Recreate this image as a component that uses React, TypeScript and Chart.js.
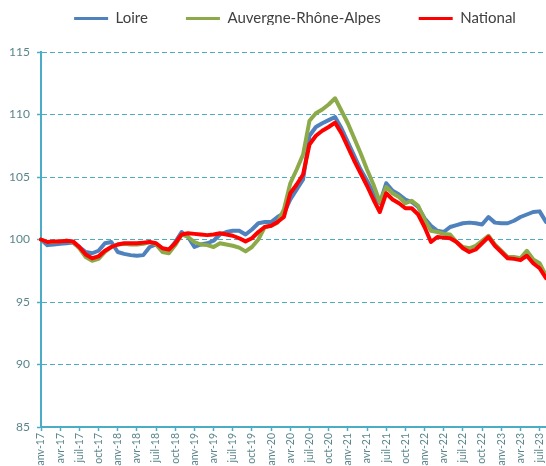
import React, { useEffect, useRef } from 'react';
import { Chart, registerables } from 'chart.js';

Chart.register(...registerables);

// Category labels (monthly, janv-17 .. août-23)
const years = ['17', '18', '19', '20', '21', '22', '23'];
const monthNames = ['janv', 'févr', 'mars', 'avr', 'mai', 'juin', 'juil', 'août', 'sept', 'oct', 'nov', 'déc'];
const allMonths: string[] = [];
years.forEach((y) => monthNames.forEach((m) => allMonths.push(`${m}-${y}`)));
const labels = allMonths.slice(0, 80);

// Series values (index base 100 = janv-17)
const loire = [
  100.0, 99.55, 99.6, 99.65, 99.7, 99.75, 99.4, 99.0, 98.9, 99.1,
  99.7, 99.8, 99.0, 98.85, 98.75, 98.7, 98.75, 99.4, 99.6, 99.3,
  99.1, 99.8, 100.6, 100.2, 99.4, 99.6, 99.7, 99.9, 100.4, 100.6,
  100.7, 100.7, 100.4, 100.8, 101.3, 101.4, 101.4, 101.8, 102.1, 103.2,
  104.0, 104.8, 108.3, 109.0, 109.3, 109.55, 109.8, 108.9, 107.8, 106.7,
  105.6, 104.7, 103.7, 102.9, 104.5, 103.9, 103.6, 103.2, 103.0, 102.6,
  101.7, 101.1, 100.7, 100.6, 101.0, 101.15, 101.3, 101.35, 101.3, 101.2,
  101.8, 101.35, 101.3, 101.3, 101.5, 101.8, 102.0, 102.2, 102.25, 101.4,
];
const ara = [
  100.0, 99.8, 99.8, 99.85, 99.9, 99.8, 99.3, 98.6, 98.3, 98.45,
  99.0, 99.4, 99.6, 99.65, 99.6, 99.6, 99.65, 99.8, 99.6, 99.0,
  98.9, 99.55, 100.4, 100.2, 99.8, 99.6, 99.55, 99.4, 99.7, 99.6,
  99.5, 99.35, 99.05, 99.4, 100.0, 101.0, 101.1, 101.35, 102.4, 104.5,
  105.6, 106.8, 109.5, 110.1, 110.4, 110.8, 111.3, 110.3, 109.3, 108.1,
  106.9, 105.6, 104.4, 103.0, 104.2, 103.7, 103.4, 102.9, 103.1, 102.7,
  101.6, 100.7, 100.6, 100.45, 100.4, 99.8, 99.4, 99.3, 99.5, 99.9,
  100.3, 99.6, 99.1, 98.6, 98.6, 98.5, 99.1, 98.4, 98.1, 97.1,
];
const national = [
  100.0, 99.8, 99.85, 99.85, 99.9, 99.85, 99.4, 98.8, 98.5, 98.65,
  99.1, 99.4, 99.6, 99.7, 99.7, 99.7, 99.75, 99.8, 99.7, 99.3,
  99.2, 99.7, 100.4, 100.5, 100.45, 100.4, 100.35, 100.4, 100.5, 100.4,
  100.3, 100.1, 99.85, 100.1, 100.6, 101.0, 101.1, 101.4, 101.8, 103.7,
  104.4, 105.2, 107.6, 108.3, 108.7, 109.0, 109.35, 108.5, 107.4, 106.3,
  105.3, 104.3, 103.2, 102.2, 103.7, 103.2, 102.9, 102.5, 102.5, 102.0,
  101.0, 99.8, 100.2, 100.15, 100.1, 99.8, 99.3, 99.0, 99.2, 99.7,
  100.2, 99.5, 99.0, 98.5, 98.45, 98.35, 98.7, 98.1, 97.7, 96.9,
];

const seriesNames = ['Loire', 'Auvergne-Rhône-Alpes', 'National'];
const yMin = 85;
const yMax = 115;
const yStep = 5;

const BLUE = '#4F81BD';
const GREEN = '#8DAA4B';
const RED = '#FF0000';
const AXIS = '#4BACC6';
const TICK = '#5A858C';
const FONT = 'Lato, "Noto Sans", sans-serif';

const LEGEND_HEIGHT = 52;
const LEGEND_DX = 22;
const LEGEND_DY = -27;

const legendTweak = {
  id: 'legendTweak',
  beforeLayout(chart: any) {
    const lg = chart.legend;
    if (lg && !lg.__tweaked) {
      const fit = lg.fit.bind(lg);
      lg.fit = function () {
        fit();
        this.height = LEGEND_HEIGHT;
      };
      lg.__tweaked = true;
    }
  },
  afterLayout(chart: any) {
    const lg = chart.legend;
    if (lg) {
      lg.left += LEGEND_DX;
      lg.right += LEGEND_DX;
      lg.top += LEGEND_DY;
      lg.bottom += LEGEND_DY;
    }
  },
};

export default function App() {
  const ref = useRef<HTMLCanvasElement>(null);

  useEffect(() => {
    if (!ref.current) return;
    const mk = (label: string, data: number[], color: string, order: number) => ({
      label,
      data,
      borderColor: color,
      backgroundColor: color,
      borderWidth: 4,
      pointRadius: 0,
      pointHoverRadius: 0,
      tension: 0,
      borderJoinStyle: 'round' as const,
      borderCapStyle: 'round' as const,
      fill: false,
      order,
    });
    const chart = new Chart(ref.current, {
      type: 'line',
      data: {
        labels,
        datasets: [
          mk(seriesNames[0], loire, BLUE, 3),
          mk(seriesNames[1], ara, GREEN, 2),
          mk(seriesNames[2], national, RED, 1),
        ],
      },
      options: {
        animation: false,
        responsive: false,
        layout: { padding: { top: 0, left: 0, right: 0, bottom: 0 } },
        plugins: {
          legend: {
            position: 'top',
            align: 'center',
            labels: {
              usePointStyle: true,
              pointStyle: 'line',
              pointStyleWidth: 34,
              padding: 38,
              color: '#404040',
              font: { family: FONT, size: 15 },
              sort: (a: any, b: any) => a.datasetIndex - b.datasetIndex,
              generateLabels: (c: any) =>
                Chart.defaults.plugins.legend.labels
                  .generateLabels(c)
                  .map((l: any) => ({ ...l, lineWidth: 3 })),
            },
          },
          tooltip: { enabled: false },
        },
        scales: {
          x: {
            type: 'category',
            offset: false,
            grid: {
              drawOnChartArea: false,
              drawTicks: true,
              tickLength: 4,
              tickWidth: 1.5,
              tickColor: (c: any) => (c.index % 3 === 0 ? AXIS : 'rgba(0,0,0,0)'),
            },
            border: { color: AXIS, width: 2 },
            ticks: {
              autoSkip: false,
              minRotation: 90,
              maxRotation: 90,
              padding: 2,
              color: TICK,
              font: { family: FONT, size: 10.5 },
              callback: (_v: any, i: number) => (i % 3 === 0 ? labels[i] : ''),
            },
            afterFit: (s: any) => {
              s.height = 39;
              s.paddingLeft = 0;
              s.paddingRight = 0;
            },
          },
          y: {
            min: yMin,
            max: yMax,
            ticks: {
              stepSize: yStep,
              padding: 7,
              color: TICK,
              font: { family: FONT, size: 12 },
            },
            grid: {
              color: AXIS,
              lineWidth: 1,
              drawTicks: true,
              tickLength: 4,
              tickColor: AXIS,
              tickWidth: 1.5,
            },
            border: { color: AXIS, width: 2, dash: [5, 3] },
            afterFit: (s: any) => {
              s.width = 41;
            },
          },
        },
      },
      plugins: [legendTweak],
    } as any);
    return () => chart.destroy();
  }, []);

  return (
    <div style={{ position: 'absolute', left: 0, top: 0, width: 546, height: 466 }}>
      <canvas ref={ref} width={546} height={466} style={{ display: 'block' }} />
    </div>
  );
}
